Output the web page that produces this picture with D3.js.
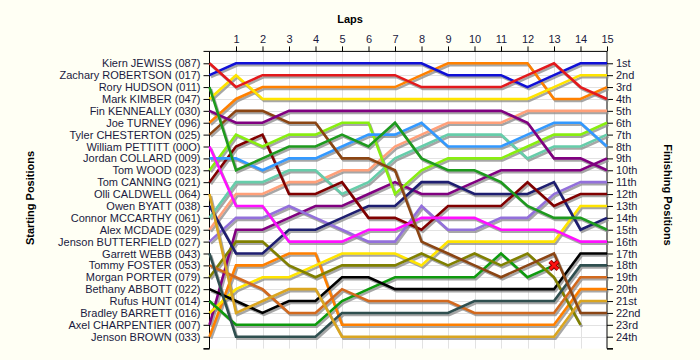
<!DOCTYPE html>
<html>
<head>
<meta charset="utf-8">
<script src="https://cdn.jsdelivr.net/npm/d3@7"></script>
<style>
  html, body { margin: 0; padding: 0; background: #FFFFF4; }
  svg { display: block; font-family: "Liberation Sans", Arial, sans-serif; }
</style>
</head>
<body>
<svg id="chart" width="700" height="360"></svg>
<script>
// ---- data ----
const laps = d3.range(0, 16);
const lapLabels = laps.slice(1).map(String);
const drivers = [
  "Kiern JEWISS (087)", "Zachary ROBERTSON (017)", "Rory HUDSON (011)", "Mark KIMBER (047)",
  "Fin KENNEALLY (030)", "Joe TURNEY (096)", "Tyler CHESTERTON (025)", "William PETTITT (00O)",
  "Jordan COLLARD (009)", "Tom WOOD (023)", "Tom CANNING (021)", "Olli CALDWELL (064)",
  "Owen BYATT (038)", "Connor MCCARTHY (061)", "Alex MCDADE (029)", "Jenson BUTTERFIELD (027)",
  "Garrett WEBB (043)", "Tommy FOSTER (053)", "Morgan PORTER (079)", "Bethany ABBOTT (022)",
  "Rufus HUNT (014)", "Bradley BARRETT (016)", "Axel CHARPENTIER (007)", "Jenson BROWN (033)"
];
const finishLabels = ["1st","2nd","3rd","4th","5th","6th","7th","8th","9th","10th","11th","12th",
  "13th","14th","15th","16th","17th","18th","19th","20th","21st","22nd","23rd","24th"];

// position of each driver at lap 0..15
const posJEWISS      = [1,3,2,2,2,2,2,2,3,3,3,3,2,1,3,4];
const posROBERTSON   = [2,1,1,1,1,1,1,1,1,2,2,2,3,2,1,1];
const posHUDSON      = [3,10,9,8,8,7,8,6,9,10,10,11,13,14,14,15];
const posKIMBER      = [4,2,4,4,4,4,4,4,4,4,4,4,4,3,2,2];
const posKENNEALLY   = [5,6,6,5,5,5,5,5,5,5,5,5,6,9,9,10];
const posTURNEY      = [6,4,3,3,3,3,3,3,2,1,1,1,1,4,4,3];
const posCHESTERTON  = [7,5,5,6,6,9,9,10,16,17,18,19,18,17,22,22];
const posPETTITT     = [8,13,13,16,16,16,15,15,14,14,14,15,15,15,16,16];
const posCOLLARD     = [9,9,10,9,9,8,7,7,6,8,8,8,7,6,6,8];
const posWOOD        = [10,7,8,7,7,6,6,12,10,9,9,9,8,7,7,6];
const posCANNING     = [11,8,7,12,12,11,14,14,15,13,13,13,11,13,12,12];
const posCALDWELL    = [12,22,21,20,20,24,24,24,24,24,24,24,24,24,21,21];
const posBYATT       = [13,17,17,15,15,14,13,13,11,11,12,12,12,11,15,14];
const posMCCARTHY    = [14,11,11,10,10,12,11,9,8,7,7,7,9,8,8,7];
const posMCDADE      = [15,12,12,11,11,10,10,8,7,6,6,6,5,5,5,5];
const posBUTTERFIELD = [16,14,14,13,14,15,16,16,13,15,15,14,14,12,11,11];
const posWEBB        = [17,24,24,24,24,22,22,22,22,22,21,21,21,21,18,18];
const posFOSTER      = [18,19,20,22,22,20,21,21,21,21,22,22,22,22,19,19];
const posPORTER      = [19,16,16,18,19,18,18,18,17,18,17,18,17,19,23];
const posABBOTT      = [20,21,22,21,21,19,19,20,20,20,20,20,20,20,17,17];
const posHUNT        = [21,23,23,23,23,21,20,19,19,19,19,17,19,18];
const posBARRETT     = [22,20,19,19,18,17,17,17,18,16,16,16,16,16,13,13];
const posCHARPENTIER = [23,15,15,14,13,13,12,11,12,12,11,10,10,10,10,9];
const posBROWN       = [24,18,18,17,17,23,23,23,23,23,23,23,23,23,20,20];

const positions = [posJEWISS, posROBERTSON, posHUDSON, posKIMBER, posKENNEALLY, posTURNEY,
  posCHESTERTON, posPETTITT, posCOLLARD, posWOOD, posCANNING, posCALDWELL, posBYATT,
  posMCCARTHY, posMCDADE, posBUTTERFIELD, posWEBB, posFOSTER, posPORTER, posABBOTT,
  posHUNT, posBARRETT, posCHARPENTIER, posBROWN];

const retired = [ { driver: 20, lap: 13 } ]; // Rufus HUNT marked with a cross

// ---- styles ----
const colors = ["#E3191C","#1010D6","#1E9A1E","#FFE400","#800080","#FF8000","#8B4513","#FF10FF",
  "#3399FF","#88EE10","#800000","#DAA520","#1E1E70","#66CDAA","#FFA07A","#9370DB",
  "#2F4F4F","#D2691E","#808000","#000000","#0E9A0E","#FFE400","#800080","#FF8000"];

const W = 700, H = 360;
const x = d3.scaleLinear().domain([0, 15]).range([209.5, 607]);
const y = d3.scaleLinear().domain([0, 25]).range([51.4, 348.6]);

const svg = d3.select("#chart");
svg.append("rect").attr("width", W).attr("height", H).attr("fill", "#FFFFF4");
svg.append("rect").attr("x", x(0)).attr("y", y(0)).attr("width", x(15) - x(0)).attr("height", y(25) - y(0)).attr("fill", "#FFFFFF");

// grid
const grid = svg.append("g").attr("stroke", "#E2E2E2").attr("stroke-width", 1);
grid.selectAll("line.v").data(laps.slice(1, 15)).join("line")
  .attr("x1", d => Math.round(x(d)) + 0.5).attr("x2", d => Math.round(x(d)) + 0.5)
  .attr("y1", y(0)).attr("y2", y(25));
grid.selectAll("line.h").data(d3.range(1, 25)).join("line")
  .attr("x1", x(0)).attr("x2", x(15))
  .attr("y1", d => Math.round(y(d)) + 0.5).attr("y2", d => Math.round(y(d)) + 0.5);

// axes
const fs = "11px";
const leftAxis = d3.axisLeft(y).tickValues(d3.range(1, 26)).tickSize(6).tickPadding(3)
  .tickFormat(d => d <= 24 ? drivers[d - 1] : "");
const rightAxis = d3.axisRight(y).tickValues(d3.range(1, 26)).tickSize(6).tickPadding(3)
  .tickFormat(d => d <= 24 ? finishLabels[d - 1] : "");
const topAxis = d3.axisTop(x).tickValues(d3.range(1, 16)).tickSize(5).tickPadding(3)
  .tickFormat((d, i) => lapLabels[i]);

function styleAxis(g) {
  g.select(".domain").attr("stroke", "#000");
  g.selectAll(".tick line").attr("stroke", "#000");
  g.selectAll("text").attr("fill", "#000").style("font-size", fs)
    .style("font-family", '"Liberation Sans", Arial, sans-serif');
}
svg.append("g").attr("transform", `translate(${x(0)},0)`).call(leftAxis).call(g => {
  g.select(".domain").attr("d", `M-6,${y(0)}H0V${y(25)}H-6`); styleAxis(g);
  g.selectAll("text").attr("fill", "#1a1a40");
});
svg.append("g").attr("transform", `translate(${x(15)},0)`).call(rightAxis).call(g => {
  g.select(".domain").attr("d", `M0,${y(0)}V${y(25)}H6`); styleAxis(g);
  g.selectAll("text").attr("fill", "#1a1a40");
});
svg.append("g").attr("transform", `translate(0,${y(0)})`).call(topAxis).call(g => {
  g.select(".domain").attr("d", `M${x(0)},0H${x(15)}`); styleAxis(g);
  g.selectAll("text").attr("fill", "#1a1a40");
});

// lines
const line = d3.line().x((d, i) => x(i)).y(d => y(d));
const shadows = svg.append("g").attr("transform", "translate(1.5,2)");
shadows.selectAll("path").data(positions).join("path")
  .attr("d", line).attr("fill", "none").attr("stroke", "#8a8a8a").attr("stroke-opacity", 0.75)
  .attr("stroke-width", 2.6).attr("stroke-linejoin", "miter");
const lines = svg.append("g");
lines.selectAll("path").data(positions.map((p, i) => ({ p, i })).reverse()).join("path")
  .attr("d", d => line(d.p)).attr("fill", "none").attr("stroke", d => colors[d.i])
  .attr("stroke-width", 2.6).attr("stroke-linejoin", "miter");

// retirement markers
const cross = svg.append("g");
retired.forEach(r => {
  const cx = x(r.lap), cy = y(positions[r.driver][r.lap]);
  const s = 4;
  const pth = `M${cx - s},${cy - s}L${cx + s},${cy + s}M${cx + s},${cy - s}L${cx - s},${cy + s}`;
  cross.append("path").attr("d", pth).attr("stroke", "#8B0000").attr("stroke-width", 4.5);
  cross.append("path").attr("d", pth).attr("stroke", "#FF1010").attr("stroke-width", 2.6);
});

// titles
svg.append("text").attr("x", 350).attr("y", 23).attr("text-anchor", "middle")
  .style("font-weight", "bold").style("font-size", "11px").text("Laps");
svg.append("text").attr("transform", "translate(34,198) rotate(-90)").attr("text-anchor", "middle")
  .style("font-weight", "bold").style("font-size", "11px").text("Starting Positions");
svg.append("text").attr("transform", "translate(664,195) rotate(90)").attr("text-anchor", "middle")
  .style("font-weight", "bold").style("font-size", "11px").text("Finishing Positions");
</script>
</body>
</html>
